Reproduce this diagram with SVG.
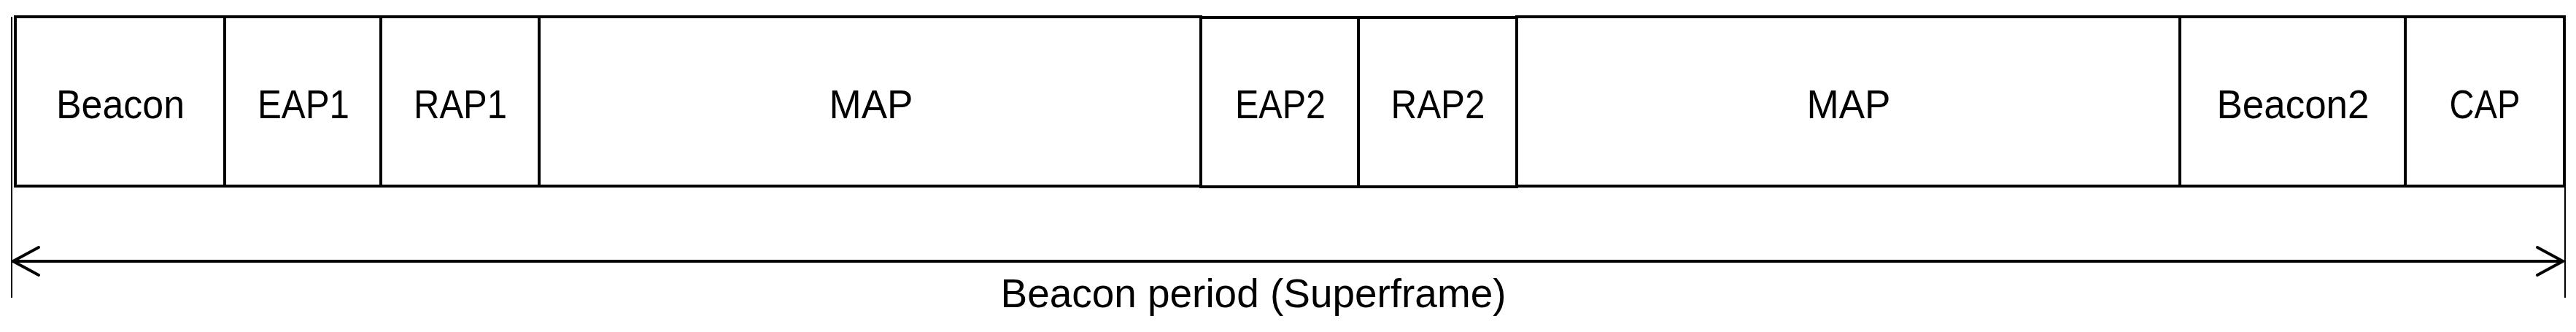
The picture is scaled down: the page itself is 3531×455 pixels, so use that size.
<svg xmlns="http://www.w3.org/2000/svg" width="3531" height="455" viewBox="0 0 3531 455">
<style>
.box{fill:#fff;stroke:#000;stroke-width:4}
.lbl{font-family:"Liberation Sans",Arial,sans-serif;font-size:55px;fill:#000;text-anchor:middle}
.thin{stroke:#000;stroke-width:2;fill:none}
.arr{stroke:#000;stroke-width:4;fill:none}
</style>
<defs>
<marker id="open" viewBox="0 0 40 44" refX="38" refY="22" markerWidth="40" markerHeight="44" markerUnits="userSpaceOnUse" orient="auto-start-reverse">
<path d="M3,3 L38,22 L3,41" fill="none" stroke="#000" stroke-width="4" stroke-linecap="round"/>
</marker>
</defs>
<rect width="3531" height="455" fill="#fff"/>
<g id="beacon"><rect class="box" x="21" y="23" width="287" height="232"/><text class="lbl" x="165" y="162" textLength="176" lengthAdjust="spacingAndGlyphs">Beacon</text></g>
<g id="eap1"><rect class="box" x="308" y="23" width="214" height="232"/><text class="lbl" x="416" y="162" textLength="126" lengthAdjust="spacingAndGlyphs">EAP1</text></g>
<g id="rap1"><rect class="box" x="522" y="23" width="217" height="232"/><text class="lbl" x="631" y="162" textLength="128" lengthAdjust="spacingAndGlyphs">RAP1</text></g>
<g id="map1"><rect class="box" x="739" y="23" width="907" height="232"/><text class="lbl" x="1194" y="162" textLength="115" lengthAdjust="spacingAndGlyphs">MAP</text></g>
<g id="eap2"><rect class="box" x="1646" y="24" width="216" height="232"/><text class="lbl" x="1755" y="162" textLength="124" lengthAdjust="spacingAndGlyphs">EAP2</text></g>
<g id="rap2"><rect class="box" x="1862" y="24" width="217" height="232"/><text class="lbl" x="1971" y="162" textLength="129" lengthAdjust="spacingAndGlyphs">RAP2</text></g>
<g id="map2"><rect class="box" x="2079" y="23" width="909" height="232"/><text class="lbl" x="2534" y="162" textLength="115" lengthAdjust="spacingAndGlyphs">MAP</text></g>
<g id="beacon2"><rect class="box" x="2988" y="23" width="309" height="232"/><text class="lbl" x="3143" y="162" textLength="209" lengthAdjust="spacingAndGlyphs">Beacon2</text></g>
<g id="cap"><rect class="box" x="3297" y="23" width="218" height="232"/><text class="lbl" x="3406" y="162" textLength="97" lengthAdjust="spacingAndGlyphs">CAP</text></g>
<g id="connectors">
<line class="thin" x1="16" y1="23" x2="16" y2="408"/>
<line class="thin" x1="3516" y1="255" x2="3516" y2="408"/>
<line class="arr" x1="18" y1="358" x2="3513" y2="358" marker-start="url(#open)" marker-end="url(#open)"/>
</g>
<g id="period"><text class="lbl" x="1718" y="421" textLength="693" lengthAdjust="spacingAndGlyphs">Beacon period (Superframe)</text></g>
</svg>
